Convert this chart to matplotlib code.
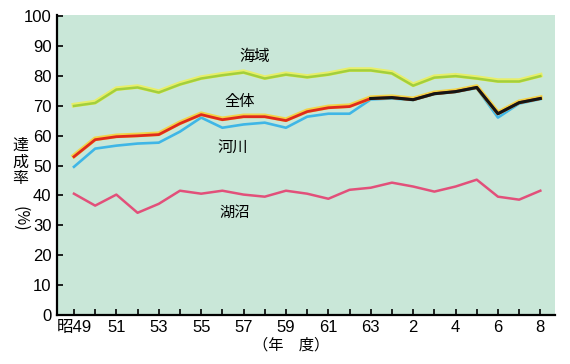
import numpy as np
import matplotlib.pyplot as plt
import matplotlib.patheffects as pe

# 年度: 昭49..昭63, 平1..平8
years = ["昭49", "50", "51", "52", "53", "54", "55", "56", "57", "58", "59", "60",
         "61", "62", "63", "元", "2", "3", "4", "5", "6", "7", "8"]

# 達成率 (%)
sea     = [70.0, 71.0, 75.5, 76.2, 74.5, 77.2, 79.2, 80.3, 81.2, 79.2, 80.5, 79.6,
           80.5, 81.9, 81.9, 80.9, 76.8, 79.5, 80.0, 79.2, 78.2, 78.2, 80.0]
overall = [53.0, 58.7, 59.7, 60.0, 60.4, 64.1, 67.1, 65.4, 66.4, 66.4, 65.1, 68.1,
           69.4, 69.8, 72.5, 72.8, 72.1, 74.1, 74.8, 76.2, 67.4, 71.1, 72.5]
river   = [49.6, 55.7, 56.7, 57.4, 57.7, 61.4, 66.1, 62.7, 63.8, 64.4, 62.7, 66.4,
           67.4, 67.4, 72.2, 72.5, 72.0, 74.0, 74.7, 76.0, 66.1, 70.8, 72.3]
lake    = [40.6, 36.6, 40.3, 34.2, 37.2, 41.6, 40.6, 41.6, 40.3, 39.6, 41.6, 40.6,
           38.9, 41.9, 42.6, 44.3, 43.0, 41.3, 43.0, 45.3, 39.6, 38.6, 41.6]

tick_labels = ["昭49", "51", "53", "55", "57", "59", "61", "63", "2", "4", "6", "8"]
y_ticks = list(range(0, 101, 10))

JP = ["Noto Sans CJK JP", "DejaVu Sans"]
NUM = ["Liberation Sans Narrow", "Liberation Sans", "Noto Sans CJK JP"]

x = np.arange(len(years))

fig = plt.figure(figsize=(5.7, 3.64), dpi=100, facecolor="white")
ax = fig.add_axes([0.1, 0.135, 0.874, 0.824])
ax.set_facecolor("#c9e7d8")

glow = lambda c: [pe.Stroke(linewidth=3.4, foreground=c, offset=(0, 0.6)), pe.Normal()]

ax.plot(x, sea, color="#a3cf3c", lw=1.8, path_effects=glow("#e8ef6a"), zorder=3)
ax.plot(x, river, color="#3fb6e6", lw=1.9, zorder=3)
ax.plot(x, overall, color="#e02a1c", lw=2.0, path_effects=glow("#f3d347"), zorder=4)
ax.plot(x[14:], overall[14:], color="#151515", lw=2.2, zorder=5)
ax.plot(x, lake, color="#e2507a", lw=1.8, zorder=3)

ax.set_xlim(-0.8, 22.7)
ax.set_ylim(0, 100.5)

ax.set_xticks(x[::2])
ax.set_xticklabels(tick_labels, family=NUM, fontsize=12)
ax.set_xticks(x, minor=True)
ax.set_yticks(y_ticks)
ax.set_yticklabels([str(v) for v in y_ticks], family=NUM, fontsize=12)
ax.tick_params(axis="both", which="both", direction="in", length=4, width=1.2,
               color="black", pad=4)

for s in ["top", "right"]:
    ax.spines[s].set_visible(False)
for s in ["left", "bottom"]:
    ax.spines[s].set_linewidth(1.6)

# series labels
lab = dict(family=JP, fontsize=11, ha="center", va="center", color="black")
ax.text(8.5, 86.5, "海域", **lab)
ax.text(7.8, 71.5, "全体", **lab)
ax.text(7.5, 56.0, "河川", **lab)
ax.text(7.6, 34.5, "湖沼", **lab)

fig.text(0.036, 0.555, "達\n成\n率", family=JP, fontsize=11.5, ha="center",
         va="center", linespacing=1.0)
fig.text(0.036, 0.40, "(%)", family=JP, fontsize=11.5, ha="center",
         va="center", rotation=-90)
fig.text(0.51, 0.052, "（年　度）", family=JP, fontsize=11, ha="center", va="center")

fig.savefig("out.png", dpi=100, facecolor=fig.get_facecolor())
